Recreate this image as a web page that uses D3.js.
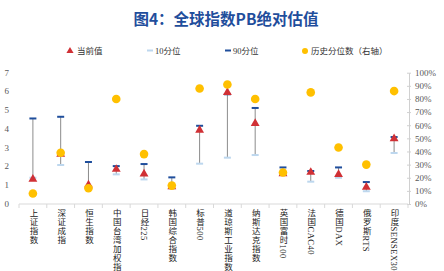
<!DOCTYPE html>
<html>
<head>
<meta charset="utf-8">
<script src="https://cdn.jsdelivr.net/npm/d3@7"></script>
<style>
  body { margin: 0; background: #fff; }
  text { font-family: "Liberation Serif", "Noto Sans CJK SC", serif; }
</style>
</head>
<body>
<div id="chart"></div>
<script>
// global index PB: current value, 10th / 90th percentile, historical percentile (right axis)

const categories = ["上证指数", "深证成指", "恒生指数", "中国台湾加权指数", "日经225", "韩国综合指数", "标普500",
                    "道琼斯工业指数", "纳斯达克指数", "英国富时100", "法国CAC40", "德国DAX", "俄罗斯RTS", "印度SENSEX30"];
const current = [1.32, 2.66, 1.02, 1.85, 1.60, 0.92, 3.94, 5.95, 4.30, 1.62, 1.69, 1.58, 0.90, 3.48];
const p10     = [1.40, 2.08, 0.95, 1.58, 1.31, 0.83, 2.15, 2.47, 2.61, 1.55, 1.19, 1.40, 0.68, 2.72];
const p90     = [4.56, 4.65, 2.24, 2.02, 2.13, 1.42, 4.17, 5.85, 5.12, 1.95, 1.76, 1.95, 1.17, 3.57];
const pct     = [0.08, 0.39, 0.12, 0.80, 0.38, 0.14, 0.88, 0.91, 0.80, 0.24, 0.85, 0.43, 0.30, 0.86];
const leftTicks = [0, 1, 2, 3, 4, 5, 6, 7];
const rightTicks = [0, 0.1, 0.2, 0.3, 0.4, 0.5, 0.6, 0.7, 0.8, 0.9, 1.0];

let width = 444,
    height = 271,
    margin = ({ top: 72.7, right: 36, bottom: 67, left: 19 });

const svg = d3.select("#chart")
    .append("svg")
    .attr("width", width)
    .attr("height", height);

let x = d3.scaleBand()
    .domain(categories)
    .range([margin.left, width - margin.right]);

let y = d3.scaleLinear()
    .domain([0, 7])
    .range([height - margin.bottom, margin.top]);

let y2 = d3.scaleLinear()
    .domain([0, 1])
    .range([height - margin.bottom, margin.top]);

const data = categories.map((c, i) => ({ name: c, cur: current[i], lo: p10[i], hi: p90[i], pct: pct[i] }));

// title
svg.append("text")
    .attr("x", 226)
    .attr("y", 25)
    .attr("text-anchor", "middle")
    .style("font-family", "'Noto Sans CJK SC', sans-serif")
    .style("font-weight", "bold")
    .style("font-size", "15.5px")
    .attr("fill", "#1f4e9c")
    .text("图4：全球指数PB绝对估值");

// legend
const lg = svg.append("g").style("font-size", "8.5px").attr("fill", "#333");
lg.append("path")
    .attr("d", d3.symbol(d3.symbolTriangle, 22)())
    .attr("transform", "translate(70,51)")
    .attr("fill", "#d03035");
lg.append("text").attr("x", 77).attr("y", 54).text("当前值");
lg.append("line").attr("x1", 147).attr("x2", 153).attr("y1", 50.5).attr("y2", 50.5)
    .attr("stroke", "#bdd7ee").attr("stroke-width", 2);
lg.append("text").attr("x", 155).attr("y", 54).text("10分位");
lg.append("line").attr("x1", 225).attr("x2", 231).attr("y1", 50.5).attr("y2", 50.5)
    .attr("stroke", "#1f4e9c").attr("stroke-width", 2);
lg.append("text").attr("x", 233).attr("y", 54).text("90分位");
lg.append("circle").attr("cx", 305).attr("cy", 51).attr("r", 3).attr("fill", "#ffc000");
lg.append("text").attr("x", 311).attr("y", 54).text("历史分位数（右轴）");

// left axis labels (no line)
svg.append("g")
    .selectAll("text")
    .data(leftTicks)
    .join("text")
    .attr("x", 9)
    .attr("y", d => y(d) + 3)
    .attr("text-anchor", "end")
    .style("font-size", "9px")
    .attr("fill", "#595959")
    .text(d => d);

// right axis
svg.append("g")
    .attr("transform", `translate(${width - margin.right + 1},0)`)
    .call(d3.axisRight(y2).tickValues(rightTicks).tickFormat(d3.format(".0%")).tickSize(2).tickSizeOuter(0).tickPadding(4))
    .call(g => g.selectAll("line, path").attr("stroke", "#d0d0d0"))
    .call(g => g.selectAll("line").attr("x1", -2))
    .call(g => g.selectAll("text").attr("fill", "#595959").style("font-size", "9px")
        .style("font-family", "'Liberation Serif', serif"));

// x axis baseline with boundary ticks
const xg = svg.append("g").attr("transform", `translate(0,${height - margin.bottom})`);
xg.append("line")
    .attr("x1", margin.left).attr("x2", width - margin.right)
    .attr("stroke", "#d9d9d9");
xg.selectAll(".bt")
    .data(categories.concat([null]))
    .join("line")
    .attr("class", "bt")
    .attr("x1", (d, i) => margin.left + i * x.step())
    .attr("x2", (d, i) => margin.left + i * x.step())
    .attr("y1", 0).attr("y2", 4)
    .attr("stroke", "#d9d9d9");

// vertical category labels
svg.append("g")
    .selectAll("text")
    .data(categories)
    .join("text")
    .attr("x", d => x(d) + x.bandwidth() / 2)
    .attr("y", height - margin.bottom + 4.5)
    .style("writing-mode", "vertical-rl")
    .style("font-size", "8.5px")
    .style("letter-spacing", "0.5px")
    .attr("fill", "#222")
    .text(d => d);

const cx = d => x(d.name) + x.bandwidth() / 2;

// range lines
svg.append("g")
    .selectAll("line")
    .data(data)
    .join("line")
    .attr("x1", cx).attr("x2", cx)
    .attr("y1", d => y(d.lo)).attr("y2", d => y(d.hi))
    .attr("stroke", "#8c8c8c")
    .attr("stroke-width", 1);

// 10th percentile
svg.append("g")
    .selectAll("line")
    .data(data)
    .join("line")
    .attr("x1", d => cx(d) - 3.5).attr("x2", d => cx(d) + 3.5)
    .attr("y1", d => y(d.lo)).attr("y2", d => y(d.lo))
    .attr("stroke", "#bdd7ee")
    .attr("stroke-width", 2);

// 90th percentile
svg.append("g")
    .selectAll("line")
    .data(data)
    .join("line")
    .attr("x1", d => cx(d) - 3.5).attr("x2", d => cx(d) + 3.5)
    .attr("y1", d => y(d.hi)).attr("y2", d => y(d.hi))
    .attr("stroke", "#1f4e9c")
    .attr("stroke-width", 2);

// current value
svg.append("g")
    .selectAll("path")
    .data(data)
    .join("path")
    .attr("d", d3.symbol(d3.symbolTriangle, 34)())
    .attr("transform", d => `translate(${cx(d)},${y(d.cur)})`)
    .attr("fill", "#d03035");

// historical percentile (right axis)
svg.append("g")
    .selectAll("circle")
    .data(data)
    .join("circle")
    .attr("cx", cx)
    .attr("cy", d => y2(d.pct))
    .attr("r", 4.3)
    .attr("fill", "#ffc000");
</script>
</body>
</html>
